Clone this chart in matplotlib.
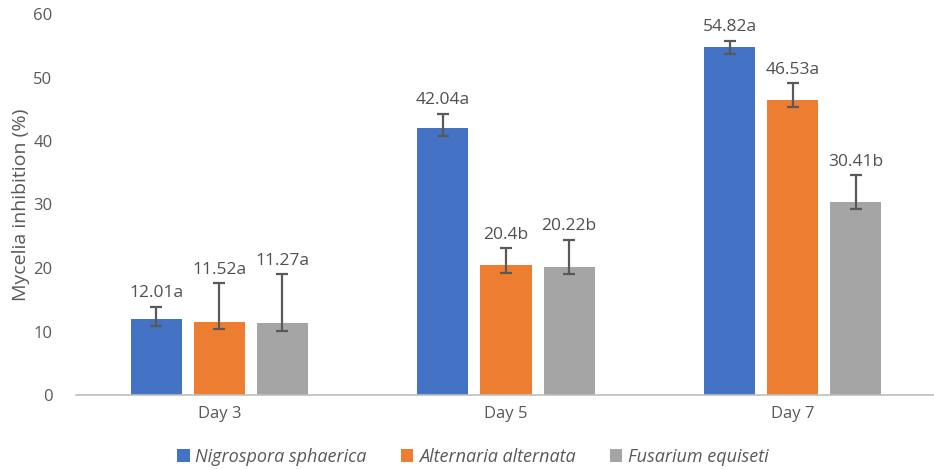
import matplotlib
matplotlib.use("Agg")
import matplotlib.pyplot as plt
import numpy as np

# Inhibition of mycelial growth per pathogen and sampling day
days = ["Day 3", "Day 5", "Day 7"]
species = ["Nigrospora sphaerica", "Alternaria alternata", "Fusarium equiseti"]

nigrospora = [12.01, 42.04, 54.82]
alternaria = [11.52, 20.40, 46.53]
fusarium = [11.27, 20.22, 30.41]

# asymmetric error bars (lower, upper)
nigrospora_err = [[1.15, 1.25, 1.15], [1.90, 2.25, 1.00]]
alternaria_err = [[1.10, 1.15, 1.20], [6.05, 2.70, 2.55]]
fusarium_err = [[1.15, 1.15, 1.15], [7.75, 4.20, 4.20]]

nigrospora_lbl = ["12.01a", "42.04a", "54.82a"]
alternaria_lbl = ["11.52a", "20.4b", "46.53a"]
fusarium_lbl = ["11.27a", "20.22b", "30.41b"]

colors = ["#4472C4", "#ED7D31", "#A5A5A5"]
text_color = "#595959"

plt.rcParams["font.family"] = ["Open Sans", "DejaVu Sans"]

fig = plt.figure(figsize=(9.34, 4.70), dpi=100)
ax = fig.add_axes([76 / 934, 75 / 470, 860 / 934, 381 / 470])

x = np.arange(len(days))
width = 0.178
step = 0.22

series = [
    (nigrospora, nigrospora_err, nigrospora_lbl),
    (alternaria, alternaria_err, alternaria_lbl),
    (fusarium, fusarium_err, fusarium_lbl),
]

for i, (vals, err, lbls) in enumerate(series):
    pos = x + (i - 1) * step
    ax.bar(pos, vals, width, color=colors[i], label=species[i], zorder=2)
    ax.errorbar(pos, vals, yerr=err, fmt="none", ecolor="#595959",
                elinewidth=1.6, capsize=4, capthick=1.6, zorder=3)
    for p, v, up, lab in zip(pos, vals, err[1], lbls):
        ax.annotate(lab, (p, v + up), xytext=(0, 4), textcoords="offset points",
                    ha="center", va="bottom", fontsize=12.5, color="#505050")

ax.set_xlim(-0.5, 2.5)
ax.set_ylim(0, 60)
ax.set_yticks(range(0, 61, 10))
ax.set_xticks(x)
ax.set_xticklabels(days)
ax.tick_params(axis="both", length=0, colors=text_color, labelsize=12)
ax.tick_params(axis="x", pad=8)
ax.tick_params(axis="y", pad=17)

for side in ["top", "right", "left"]:
    ax.spines[side].set_visible(False)
ax.spines["bottom"].set_color("#BFBFBF")
ax.spines["bottom"].set_linewidth(1.2)

ax.set_ylabel("Mycelia inhibition (%)", fontsize=14, color=text_color, labelpad=2)

leg = fig.legend(loc="center", bbox_to_anchor=(0.506, 0.028), ncol=3, frameon=False,
                 handlelength=0.7, handleheight=0.7, handletextpad=0.3,
                 columnspacing=1.9, prop={"style": "italic", "size": 13})
for t in leg.get_texts():
    t.set_color(text_color)

fig.savefig("out.png", dpi=100)
